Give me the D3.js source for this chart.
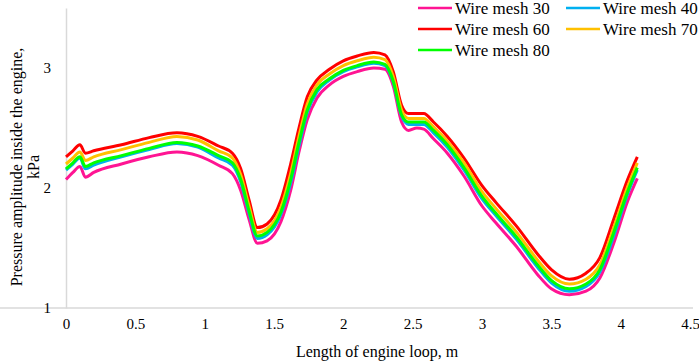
<!DOCTYPE html>
<html>
<head>
<meta charset="utf-8">
<script src="https://cdn.jsdelivr.net/npm/d3@7"></script>
<style>
  body { margin: 0; background: #fff; }
  text { font-family: "Liberation Serif", "Times New Roman", serif; fill: #000; }
</style>
</head>
<body>
<svg id="chart" width="699" height="364"></svg>
<script>
// position along the loop (m)
var lengths = [0, 0.05, 0.1, 0.14, 0.2, 0.4, 0.6, 0.8, 0.95, 1.1, 1.2, 1.26, 1.32, 1.38, 1.45, 1.55, 1.62, 1.68, 1.74, 1.81, 1.9, 2.0, 2.1, 2.22, 2.3, 2.36, 2.42, 2.47, 2.53, 2.58, 2.65, 2.75, 2.87, 3.0, 3.1, 3.25, 3.4, 3.5, 3.63, 3.75, 3.85, 3.95, 4.05, 4.12];

var mesh30 = [2.07, 2.13, 2.18, 2.09, 2.13, 2.20, 2.26, 2.30, 2.27, 2.19, 2.12, 1.98, 1.74, 1.54, 1.56, 1.72, 1.98, 2.30, 2.57, 2.75, 2.86, 2.93, 2.97, 3.00, 2.99, 2.85, 2.55, 2.48, 2.50, 2.49, 2.41, 2.29, 2.10, 1.85, 1.71, 1.51, 1.28, 1.16, 1.11, 1.14, 1.25, 1.54, 1.89, 2.08];
var mesh40 = [2.15, 2.20, 2.25, 2.16, 2.19, 2.26, 2.32, 2.37, 2.34, 2.25, 2.19, 2.05, 1.79, 1.58, 1.61, 1.78, 2.04, 2.35, 2.63, 2.80, 2.90, 2.97, 3.01, 3.04, 3.02, 2.88, 2.60, 2.53, 2.53, 2.53, 2.46, 2.34, 2.15, 1.91, 1.77, 1.57, 1.34, 1.21, 1.14, 1.18, 1.30, 1.60, 1.95, 2.15];
var mesh60 = [2.26, 2.31, 2.36, 2.29, 2.31, 2.36, 2.42, 2.46, 2.43, 2.35, 2.29, 2.16, 1.90, 1.67, 1.70, 1.90, 2.20, 2.50, 2.76, 2.90, 2.99, 3.06, 3.10, 3.13, 3.11, 2.97, 2.69, 2.62, 2.62, 2.62, 2.55, 2.43, 2.25, 2.02, 1.88, 1.68, 1.45, 1.32, 1.24, 1.29, 1.42, 1.74, 2.07, 2.26];
var mesh70 = [2.20, 2.25, 2.30, 2.23, 2.26, 2.32, 2.38, 2.43, 2.40, 2.31, 2.25, 2.11, 1.85, 1.63, 1.66, 1.84, 2.12, 2.43, 2.70, 2.86, 2.95, 3.02, 3.06, 3.09, 3.07, 2.93, 2.65, 2.58, 2.58, 2.58, 2.51, 2.39, 2.21, 1.97, 1.83, 1.63, 1.40, 1.27, 1.20, 1.24, 1.36, 1.67, 2.01, 2.21];
var mesh80 = [2.16, 2.21, 2.26, 2.18, 2.21, 2.27, 2.33, 2.38, 2.35, 2.27, 2.21, 2.07, 1.81, 1.60, 1.63, 1.80, 2.07, 2.38, 2.65, 2.82, 2.91, 2.98, 3.02, 3.05, 3.03, 2.89, 2.61, 2.55, 2.55, 2.55, 2.48, 2.36, 2.17, 1.93, 1.79, 1.59, 1.36, 1.23, 1.16, 1.20, 1.32, 1.63, 1.97, 2.17];

var seriesNames = ['Wire mesh 30', 'Wire mesh 40', 'Wire mesh 60', 'Wire mesh 70', 'Wire mesh 80'];
var seriesValues = [mesh30, mesh40, mesh60, mesh70, mesh80];
var seriesColors = ['#ff1493', '#00b0f0', '#ff0000', '#ffc000', '#00ff00'];

var xTicks = [0, 0.5, 1, 1.5, 2, 2.5, 3, 3.5, 4, 4.5];
var yTicks = [1, 2, 3];

var svg = d3.select('#chart');
var x = d3.scaleLinear().domain([0, 4.5]).range([66, 690]);
var y = d3.scaleLinear().domain([1, 3.5]).range([308, 8]);

// axes (Excel style: grey lines, no tick marks)
var xAxis = svg.append('g')
    .attr('transform', 'translate(0,308)')
    .call(d3.axisBottom(x).tickValues(xTicks).tickSize(0).tickPadding(10)
        .tickFormat(function (d) { return String(d); }));
var yAxis = svg.append('g')
    .attr('transform', 'translate(66,0)')
    .call(d3.axisLeft(y).tickValues(yTicks).tickSize(0).tickPadding(15)
        .tickFormat(function (d) { return String(d); }));
[xAxis, yAxis].forEach(function (g) {
    g.select('.domain').attr('stroke', '#d9d9d9').attr('stroke-width', 1.5);
    g.selectAll('text').attr('font-size', 15).attr('font-family', '"Liberation Serif", serif');
});
xAxis.select('.domain').attr('d', 'M0,0H693');

var line = d3.line()
    .x(function (d) { return x(d[0]); })
    .y(function (d) { return y(d[1]); })
    .curve(d3.curveMonotoneX);

svg.append('g').selectAll('path')
    .data(seriesValues)
    .enter().append('path')
    .attr('fill', 'none')
    .attr('stroke', function (d, i) { return seriesColors[i]; })
    .attr('stroke-width', 3)
    .attr('stroke-linejoin', 'round')
    .attr('d', function (vals) {
        return line(lengths.map(function (l, j) { return [l, vals[j]]; }));
    });

// titles
svg.append('text')
    .attr('x', 377).attr('y', 357)
    .attr('text-anchor', 'middle')
    .attr('font-size', 16)
    .text('Length of engine loop, m');
var yt = svg.append('text')
    .attr('transform', 'translate(22,167) rotate(-90)')
    .attr('text-anchor', 'middle')
    .attr('font-size', 16);
yt.append('tspan').attr('x', 0).attr('y', 0).text('Pressure amplitude inside the engine,');
yt.append('tspan').attr('x', 0).attr('y', 17).text('kPa');

// legend
var legendPos = [[418, 8], [566, 8], [418, 29], [566, 29], [418, 50]];
var legendOrder = [0, 1, 2, 3, 4];
var lg = svg.append('g').selectAll('g')
    .data(legendOrder)
    .enter().append('g')
    .attr('transform', function (d, i) { return 'translate(' + legendPos[i][0] + ',' + legendPos[i][1] + ')'; });
lg.append('line')
    .attr('x1', 0).attr('x2', 34).attr('y1', 0).attr('y2', 0)
    .attr('stroke', function (d) { return seriesColors[d]; })
    .attr('stroke-width', 2.5);
lg.append('text')
    .attr('x', 37).attr('y', 0).attr('dy', '0.35em')
    .attr('font-size', 17)
    .text(function (d) { return seriesNames[d]; });
</script>
</body>
</html>
